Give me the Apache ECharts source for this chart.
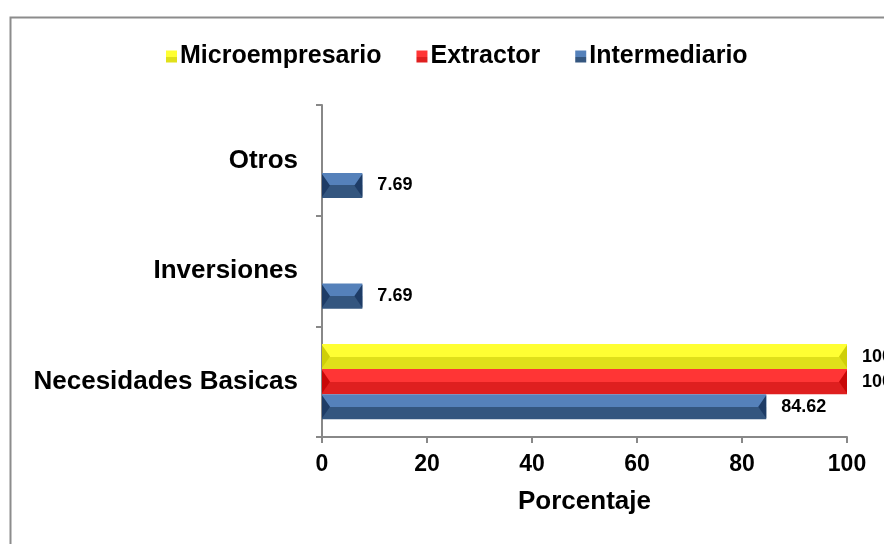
<!DOCTYPE html>
<html>
<head>
<meta charset="utf-8">
<script src="https://cdn.jsdelivr.net/npm/echarts@6/dist/echarts.min.js"></script>
<style>
  html, body { margin: 0; padding: 0; background: #fff; }
  #chart { width: 884px; height: 544px; }
</style>
</head>
<body>
<div id="chart"></div>
<script>
// Categories, bottom to top along the vertical axis
const categories = ['Necesidades Basicas', 'Inversiones', 'Otros'];
const seriesNames = ['Microempresario', 'Extractor', 'Intermediario'];
const microempresario = [100, null, null];
const extractor = [100, null, null];
const intermediario = [84.62, 7.69, 7.69];
const xTicks = [0, 20, 40, 60, 80, 100];

const FONT = '"Liberation Sans", Arial, sans-serif';
const CATEGORY_GAP = 0.32;

// Two-tone bevel fill: light upper half, darker lower half
function bevel(top, bottom) {
  return new echarts.graphic.LinearGradient(0, 0, 0, 1, [
    { offset: 0, color: top },
    { offset: 0.5, color: top },
    { offset: 0.5, color: bottom },
    { offset: 1, color: bottom }
  ]);
}

const palette = {
  Microempresario: { top: '#FFFF33', bottom: '#E0E01A', edge: '#CFCF08', solid: '#F0F020' },
  Extractor: { top: '#FF3535', bottom: '#DF1F1F', edge: '#C80808', solid: '#EE2222' },
  Intermediario: { top: '#5581BA', bottom: '#34567F', edge: '#1E3C66', solid: '#3F679B' }
};

const valuesByName = {
  Microempresario: microempresario,
  Extractor: extractor,
  Intermediario: intermediario
};

function makeSeries(name) {
  const c = palette[name];
  return {
    name: name,
    type: 'bar',
    data: valuesByName[name],
    barGap: '0%',
    barCategoryGap: (CATEGORY_GAP * 100) + '%',
    itemStyle: { color: bevel(c.top, c.bottom) },
    label: {
      show: true,
      position: 'right',
      distance: 15,
      color: '#000',
      fontFamily: FONT,
      fontWeight: 'bold',
      fontSize: 18,
      formatter: p => (p.value == null ? '' : String(p.value))
    },
    emphasis: { disabled: true }
  };
}

// Dark wedges at both ends of every bar, giving the bevelled look
function makeEnds(name, index) {
  const c = palette[name];
  const data = [];
  valuesByName[name].forEach((v, i) => { if (v != null) data.push([v, i]); });
  return {
    type: 'custom',
    name: name + ' ends',
    silent: true,
    z: 5,
    data: data,
    encode: { x: 0, y: 1 },
    renderItem: (params, api) => {
      const band = api.size([0, 1])[1];
      const barH = band * (1 - CATEGORY_GAP) / seriesNames.length;
      const center = api.coord([0, api.value(1)]);
      const end = api.coord([api.value(0), api.value(1)]);
      const y0 = center[1] - barH * seriesNames.length / 2 + index * barH;
      const y1 = y0 + barH;
      const ym = (y0 + y1) / 2;
      const x0 = center[0];
      const x1 = end[0];
      const w = Math.min(8, (x1 - x0) / 3);
      return {
        type: 'group',
        children: [
          { type: 'polygon', shape: { points: [[x0, y0 + 1], [x0 + w, ym], [x0, y1 - 1]] }, style: { fill: c.edge } },
          { type: 'polygon', shape: { points: [[x1, y0 + 1], [x1 - w, ym], [x1, y1 - 1]] }, style: { fill: c.edge } }
        ]
      };
    }
  };
}

const chart = echarts.init(document.getElementById('chart'), null, { renderer: 'canvas' });

chart.setOption({
  animation: false,
  backgroundColor: '#fff',
  color: seriesNames.map(n => palette[n].solid),
  graphic: [{
    type: 'polyline',
    shape: { points: [[10.5, 544], [10.5, 17.5], [884, 17.5]] },
    style: { stroke: '#8c8c8c', lineWidth: 2, fill: null },
    silent: true
  }],
  legend: {
    data: seriesNames.map(n => ({ name: n, itemStyle: { color: bevel(palette[n].top, palette[n].bottom) } })),
    top: 39,
    left: 161,
    icon: 'rect',
    itemWidth: 11,
    itemHeight: 12,
    itemGap: 35,
    textStyle: { fontFamily: FONT, fontWeight: 'bold', fontSize: 25, color: '#000', padding: [0, 0, 0, -2] }
  },
  grid: { left: 322, right: 37, top: 105, bottom: 107, containLabel: false },
  xAxis: {
    type: 'value',
    min: xTicks[0],
    max: xTicks[xTicks.length - 1],
    interval: xTicks[1] - xTicks[0],
    name: 'Porcentaje',
    nameLocation: 'middle',
    nameGap: 52,
    nameTextStyle: { fontFamily: FONT, fontWeight: 'bold', fontSize: 26, color: '#000' },
    axisLine: { show: true, lineStyle: { color: '#888', width: 2 } },
    axisTick: { show: true, length: 6, lineStyle: { color: '#888', width: 2 } },
    axisLabel: { margin: 16, fontFamily: FONT, fontWeight: 'bold', fontSize: 23, color: '#000' },
    splitLine: { show: false }
  },
  yAxis: {
    type: 'category',
    data: categories,
    axisLine: { show: true, lineStyle: { color: '#888', width: 2 } },
    axisTick: { show: true, length: 6, lineStyle: { color: '#888', width: 2 } },
    axisLabel: { margin: 24, fontFamily: FONT, fontWeight: 'bold', fontSize: 26, color: '#000' },
    splitLine: { show: false }
  },
  series: seriesNames.map(makeSeries).concat(seriesNames.map(makeEnds))
});
</script>
</body>
</html>
